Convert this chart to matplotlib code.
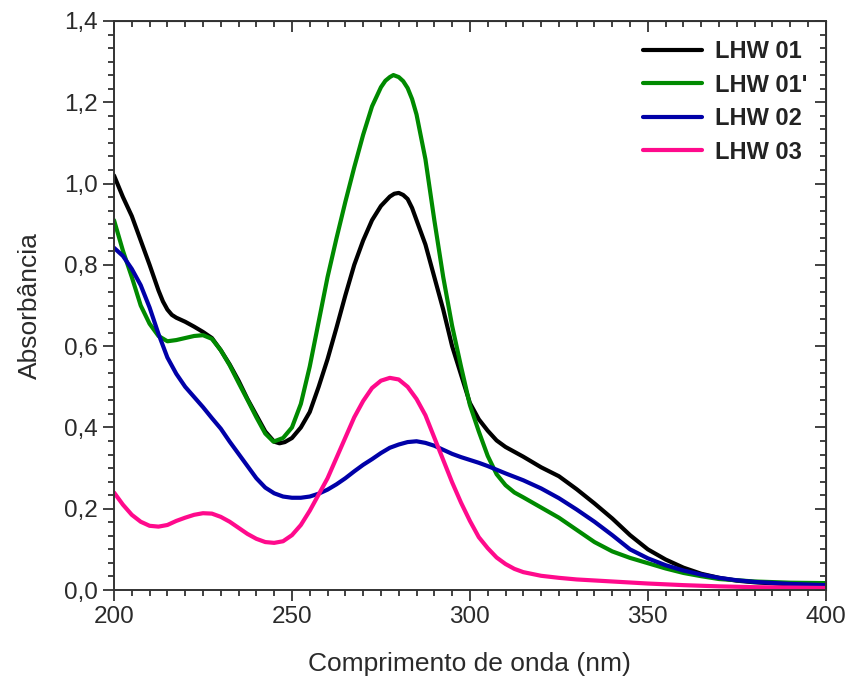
import numpy as np
import matplotlib
matplotlib.use('Agg')
import matplotlib.pyplot as plt
from matplotlib.ticker import AutoMinorLocator

plt.rcParams['font.family'] = ['Liberation Sans', 'DejaVu Sans']

# UV-Vis spectra, wavelength in nm
wl_01 = [200, 202.5, 205, 207.5, 210, 212.5, 213.75, 215, 216.25, 217.5, 220, 222.5, 225, 227.5,
         230, 232.5, 235, 237.5, 240, 242.5, 245, 246.5, 248, 250, 252.5, 255,
         257.5, 260, 262.5, 265, 267.5, 270, 272.5, 275, 277.5, 278.75, 280, 281.25, 282.5,
         283.75, 285, 287.5, 290, 292.5, 295, 297.5, 300, 302.5, 305, 307.5, 310, 315, 320,
         325, 330, 335, 340, 345, 350, 355, 360, 365, 370, 375, 380, 390, 400]
abs_01 = [1.02, 0.967, 0.92, 0.86, 0.80, 0.737, 0.71, 0.69, 0.677, 0.67, 0.66, 0.648, 0.635, 0.62,
          0.59, 0.555, 0.515, 0.47, 0.43, 0.39, 0.365, 0.361, 0.364, 0.374, 0.40, 0.438,
          0.50, 0.568, 0.645, 0.725, 0.80, 0.86, 0.91, 0.945, 0.968, 0.975, 0.977, 0.972, 0.962,
          0.94, 0.91, 0.85, 0.77, 0.69, 0.60, 0.53, 0.46, 0.42, 0.392, 0.368, 0.352, 0.328, 0.302,
          0.28, 0.248, 0.213, 0.176, 0.135, 0.10, 0.075, 0.055, 0.04, 0.03, 0.023, 0.019, 0.014, 0.011]

wl_01b = [200, 202.5, 205, 207.5, 210, 212.5, 215, 217.5, 220, 222.5, 225, 227.5,
          230, 232.5, 235, 237.5, 240, 242.5, 244.8, 247.5, 250, 252.5, 255, 257.5,
          260, 262.5, 265, 267.5, 270, 272.5, 275, 276.25, 277.5, 278.5, 280, 281.25, 282.5,
          283.75, 285, 287.5, 290, 292.5, 295, 297.5, 300, 302.5, 305, 307.5, 310, 312.5, 315,
          320, 325, 330, 335, 340, 345, 350, 355, 360, 365, 370, 380, 390, 400]
abs_01b = [0.91, 0.835, 0.77, 0.70, 0.655, 0.625, 0.612, 0.615, 0.62, 0.625, 0.627, 0.618,
           0.59, 0.553, 0.51, 0.468, 0.425, 0.385, 0.365, 0.374, 0.40, 0.458, 0.55, 0.66,
           0.77, 0.865, 0.955, 1.04, 1.12, 1.19, 1.237, 1.253, 1.262, 1.267, 1.262, 1.252, 1.235,
           1.208, 1.17, 1.06, 0.91, 0.77, 0.65, 0.55, 0.455, 0.39, 0.33, 0.285, 0.258, 0.24, 0.228,
           0.203, 0.178, 0.148, 0.118, 0.095, 0.079, 0.066, 0.053, 0.042, 0.034, 0.027, 0.021, 0.018, 0.017]

wl_02 = [200, 202.5, 205, 207.5, 210, 212.5, 215, 217.5, 220, 222.5, 225, 227.5,
         230, 232.5, 235, 237.5, 240, 242.5, 245, 247.5, 250, 252.5, 255, 257.5,
         260, 262.5, 265, 267.5, 270, 272.5, 275, 277.5, 280, 282.5, 285, 287.5,
         290, 292.5, 295, 297.5, 300, 302.5, 305, 307.5, 310, 315, 320, 325,
         330, 335, 340, 345, 350, 355, 360, 365, 370, 375, 380, 390, 400]
abs_02 = [0.842, 0.822, 0.79, 0.75, 0.695, 0.63, 0.572, 0.532, 0.50, 0.475, 0.45, 0.423,
          0.397, 0.365, 0.335, 0.305, 0.275, 0.252, 0.238, 0.23, 0.227, 0.227, 0.23, 0.237,
          0.247, 0.26, 0.275, 0.292, 0.308, 0.322, 0.337, 0.35, 0.358, 0.364, 0.366, 0.362,
          0.355, 0.345, 0.335, 0.327, 0.32, 0.313, 0.305, 0.296, 0.287, 0.27, 0.25, 0.226,
          0.198, 0.168, 0.135, 0.10, 0.078, 0.061, 0.048, 0.038, 0.03, 0.024, 0.02, 0.015, 0.012]

wl_03 = [200, 202.5, 205, 207.5, 210, 212.5, 215, 217.5, 220, 222.5, 225, 227.5,
         230, 232.5, 235, 237.5, 240, 242.5, 245, 247.5, 250, 252.5, 255, 257.5,
         260, 262.5, 265, 267.5, 270, 272.5, 275, 277.5, 280, 282.5, 285, 287.5,
         290, 292.5, 295, 297.5, 300, 302.5, 305, 307.5, 310, 312.5, 315, 320,
         325, 330, 340, 350, 360, 370, 380, 390, 400]
abs_03 = [0.24, 0.21, 0.185, 0.168, 0.158, 0.156, 0.16, 0.17, 0.178, 0.185, 0.189, 0.188,
          0.18, 0.168, 0.153, 0.138, 0.126, 0.118, 0.116, 0.12, 0.135, 0.16, 0.195, 0.235,
          0.275, 0.325, 0.375, 0.425, 0.465, 0.497, 0.515, 0.522, 0.518, 0.50, 0.47, 0.43,
          0.375, 0.32, 0.265, 0.215, 0.17, 0.13, 0.103, 0.08, 0.064, 0.052, 0.044, 0.035,
          0.03, 0.026, 0.021, 0.016, 0.012, 0.009, 0.007, 0.006, 0.005]

labels = ['LHW 01', "LHW 01'", 'LHW 02', 'LHW 03']
colors = ['#000000', '#008a00', '#0000a8', '#ff0a8c']

xticks = [200, 250, 300, 350, 400]
yticks = [0.0, 0.2, 0.4, 0.6, 0.8, 1.0, 1.2, 1.4]
yticklabels = ['0,0', '0,2', '0,4', '0,6', '0,8', '1,0', '1,2', '1,4']

fig = plt.figure(figsize=(8.54, 6.93), dpi=100)
ax = fig.add_axes([0.1335, 0.1486, 0.8335, 0.8211])

series = [(wl_01, abs_01), (wl_01b, abs_01b), (wl_02, abs_02), (wl_03, abs_03)]
for (x, y), lab, c in zip(series, labels, colors):
    ax.plot(x, y, color=c, lw=3.0, label=lab, solid_capstyle='round',
            solid_joinstyle='round')

ax.set_xlim(200, 400)
ax.set_ylim(0, 1.4)
ax.set_xticks(xticks)
ax.set_yticks(yticks)
ax.set_yticklabels(yticklabels)
ax.xaxis.set_minor_locator(AutoMinorLocator(10))
ax.yaxis.set_minor_locator(AutoMinorLocator(6))
ax.tick_params(which='both', direction='out', width=1.3, colors='#333333',
               labelsize=17.5, labelcolor='#2a2a2a')
ax.tick_params(which='major', length=8)
ax.tick_params(which='minor', length=4.5)
for sp in ax.spines.values():
    sp.set_linewidth(1.4)
    sp.set_color('#333333')

# inward ticks on the top and right frame
top = ax.secondary_xaxis('top')
top.set_xticks(xticks)
top.xaxis.set_minor_locator(AutoMinorLocator(10))
top.tick_params(which='both', direction='in', labeltop=False, width=1.3, colors='#333333')
top.tick_params(which='major', length=8)
top.tick_params(which='minor', length=4.5)
right = ax.secondary_yaxis('right')
right.set_yticks(yticks)
right.yaxis.set_minor_locator(AutoMinorLocator(6))
right.tick_params(which='both', direction='in', labelright=False, width=1.3, colors='#333333')
right.tick_params(which='major', length=8)
right.tick_params(which='minor', length=4.5)

ax.set_xlabel('Comprimento de onda (nm)', fontsize=19, color='#2a2a2a', labelpad=17)
ax.set_ylabel('Absorbância', fontsize=19, color='#2a2a2a', labelpad=16)

leg = ax.legend(loc='upper right', frameon=False, handlelength=2.5, handletextpad=0.55,
                labelspacing=0.45, borderaxespad=0.4, prop={'weight': 'bold', 'size': 17})
for t in leg.get_texts():
    t.set_color('#222222')

fig.savefig('out.png', dpi=100)
